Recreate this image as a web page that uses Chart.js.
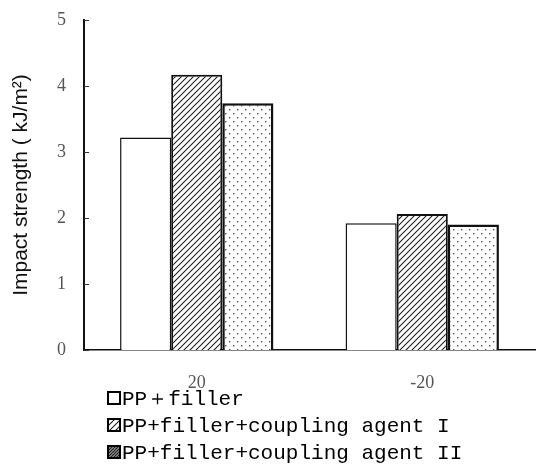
<!DOCTYPE html>
<html>
<head>
<meta charset="utf-8">
<script src="https://cdn.jsdelivr.net/npm/chart.js@4/dist/chart.umd.min.js"></script>
<style>
  html, body { margin: 0; padding: 0; background: #fff; }
  #caixa { width: 536px; height: 470px; position: relative; }
</style>
</head>
<body>
<div id="caixa"><canvas id="graficoImpacto"></canvas></div>
<script>
// Dados
const temperaturas = ["20", "-20"];
const ppFiller = [3.22, 1.92];
const ppAgente1 = [4.17, 2.06];
const ppAgente2 = [3.74, 1.9];
const nomesSeries = ["PP＋filler", "PP+filler+coupling agent I", "PP+filler+coupling agent II"];
const ticksY = [0, 1, 2, 3, 4, 5];
const tituloY = "Impact strength ( kJ/m²)";

// Padrão de hachuras diagonais
function padraoHachurado(ctxBase) {
  const c = document.createElement("canvas");
  c.width = 6;
  c.height = 6;
  const g = c.getContext("2d");
  g.fillStyle = "#fff";
  g.fillRect(0, 0, 6, 6);
  g.strokeStyle = "#222";
  g.lineWidth = 1.1;
  g.beginPath();
  g.moveTo(0, 6); g.lineTo(6, 0);
  g.moveTo(-1, 1); g.lineTo(1, -1);
  g.moveTo(5, 7); g.lineTo(7, 5);
  g.stroke();
  return ctxBase.createPattern(c, "repeat");
}

// Padrão pontilhado
function padraoPontos(ctxBase) {
  const c = document.createElement("canvas");
  c.width = 8;
  c.height = 8;
  const g = c.getContext("2d");
  g.fillStyle = "#fff";
  g.fillRect(0, 0, 8, 8);
  g.fillStyle = "#555";
  g.fillRect(1, 1, 1.4, 1.4);
  g.fillRect(5, 5, 1.4, 1.4);
  return ctxBase.createPattern(c, "repeat");
}

// Padrão denso usado só no quadradinho da legenda
function padraoDenso(ctxBase) {
  const c = document.createElement("canvas");
  c.width = 3;
  c.height = 3;
  const g = c.getContext("2d");
  g.fillStyle = "#777";
  g.fillRect(0, 0, 3, 3);
  g.fillStyle = "#222";
  g.fillRect(0, 0, 1, 1);
  g.fillRect(2, 1, 1, 1);
  g.fillRect(1, 2, 1, 1);
  return ctxBase.createPattern(c, "repeat");
}

const ctx = document.getElementById("graficoImpacto").getContext("2d");
const hachura = padraoHachurado(ctx);
const pontos = padraoPontos(ctx);
const denso = padraoDenso(ctx);

// Legenda desenhada à mão (uma série por linha) + marquinhas do eixo y para dentro
const legendaManual = {
  id: "legendaManual",
  afterDraw(chart) {
    const c = chart.ctx;
    const escalaY = chart.scales.y;
    const esquerda = chart.chartArea.left;
    c.save();
    c.strokeStyle = "#333";
    c.lineWidth = 1;
    escalaY.ticks.forEach((t) => {
      const py = Math.round(escalaY.getPixelForValue(t.value)) + 0.5;
      c.beginPath();
      c.moveTo(esquerda, py);
      c.lineTo(esquerda + 5, py);
      c.stroke();
    });

    const base = chart.chartArea.bottom + 48;
    const caixas = ["#fff", hachura, denso];
    c.font = "21px 'Liberation Mono', monospace";
    c.textBaseline = "middle";
    c.textAlign = "left";
    chart.data.datasets.forEach((ds, i) => {
      const y = base + i * 27;
      c.fillStyle = caixas[i];
      c.fillRect(108, y - 6, 12, 12);
      c.strokeStyle = "#000";
      c.lineWidth = 2;
      c.strokeRect(108, y - 6, 12, 12);
      c.fillStyle = "#000";
      c.fillText(ds.label, 122, y + 1);
    });
    c.restore();
  }
};

const config = {
  type: "bar",
  data: {
    labels: temperaturas,
    datasets: [
      {
        label: nomesSeries[0],
        data: ppFiller,
        backgroundColor: "#fff",
        borderColor: "#111",
        borderWidth: 1.5,
      },
      {
        label: nomesSeries[1],
        data: ppAgente1,
        backgroundColor: hachura,
        borderColor: "#111",
        borderWidth: 2,
      },
      {
        label: nomesSeries[2],
        data: ppAgente2,
        backgroundColor: pontos,
        borderColor: "#111",
        borderWidth: 2.5,
      },
    ],
  },
  options: {
    responsive: true,
    maintainAspectRatio: false,
    animation: false,
    layout: { padding: { top: 20, right: 1, bottom: 75, left: 0 } },
    datasets: {
      bar: { categoryPercentage: 0.68, barPercentage: 1.0 },
    },
    scales: {
      x: {
        grid: { display: false, drawTicks: false },
        border: { display: true, color: "#111", width: 1.5 },
        ticks: {
          color: "#555",
          padding: 22,
          font: { family: "'Liberation Serif', serif", size: 18 },
        },
        afterFit(scale) { scale.height = 45; },
      },
      y: {
        min: 0,
        max: 5,
        afterBuildTicks(scale) { scale.ticks = ticksY.map((v) => ({ value: v })); },
        grid: { display: false, drawTicks: false },
        border: { display: true, color: "#111", width: 2 },
        ticks: {
          color: "#555",
          padding: 18,
          font: { family: "'Liberation Serif', serif", size: 18 },
        },
        title: {
          display: true,
          text: tituloY,
          color: "#111",
          padding: { top: 9, bottom: 0 },
          font: { family: "'Liberation Sans', Arial, sans-serif", size: 21 },
        },
        afterFit(scale) {
          scale.width = 84;
          scale.paddingTop = 0;
          scale.paddingBottom = 0;
        },
      },
    },
    plugins: {
      legend: { display: false },
      tooltip: { enabled: false },
    },
  },
  plugins: [legendaManual],
};

const chart = new Chart(ctx, config);
</script>
</body>
</html>
